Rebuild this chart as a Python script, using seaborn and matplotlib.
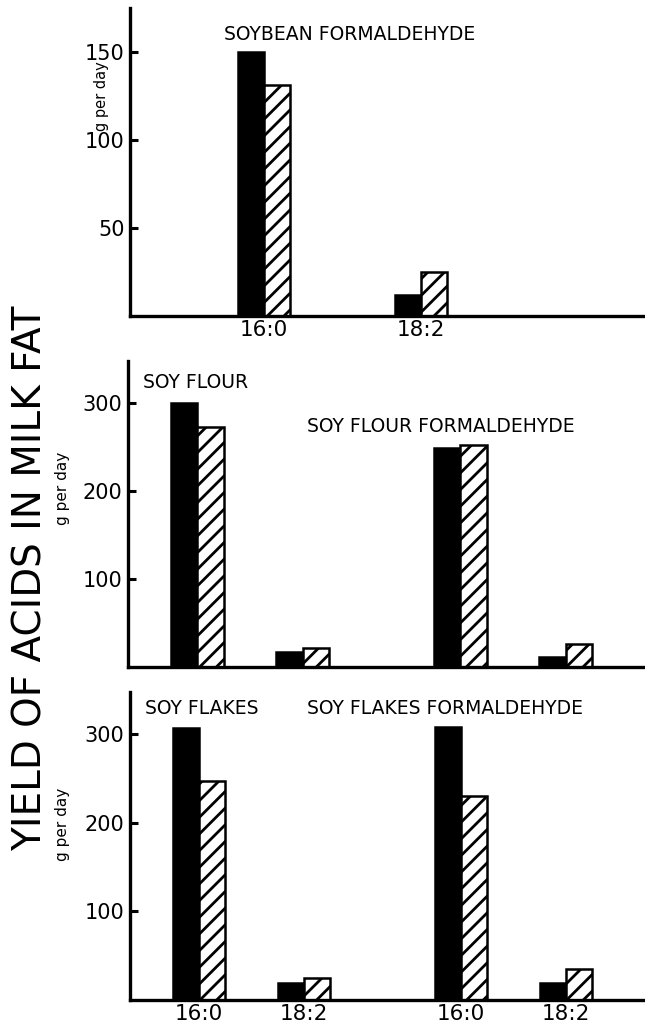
import matplotlib
matplotlib.use("Agg")
import matplotlib.pyplot as plt
import seaborn as sns
import pandas as pd

# yields in g per day, black bar first, hatched bar second
acids = ["16:0", "18:2"]
periods = ["black", "hatched"]

soybean_form_black = [150, 12]
soybean_form_hatched = [131, 25]

soy_flour_black = [300, 17]
soy_flour_hatched = [273, 22]
soy_flour_form_black = [249, 12]
soy_flour_form_hatched = [252, 26]

soy_flakes_black = [307, 19]
soy_flakes_hatched = [247, 24]
soy_flakes_form_black = [308, 19]
soy_flakes_form_hatched = [230, 35]


def make_frame(prefix, black, hatched):
    rows = []
    for acid, b, h in zip(acids, black, hatched):
        rows.append({"slot": f"{prefix} {acid}", "period": "black", "value": b})
        rows.append({"slot": f"{prefix} {acid}", "period": "hatched", "value": h})
    return pd.DataFrame(rows)


def draw_panel(ax, df, order, xlim, ylim, yticks, show_xlabels):
    sns.barplot(data=df, x="slot", y="value", hue="period", order=order,
                hue_order=periods, palette={"black": "black", "hatched": "white"},
                width=1.0, errorbar=None, edgecolor="black", linewidth=1.8,
                legend=False, ax=ax)
    for bar in ax.containers[1]:
        bar.set_hatch("//")
    ax.set_xlim(*xlim)
    ax.set_ylim(*ylim)
    ax.set_yticks(yticks)
    ax.set_yticklabels([str(t) for t in yticks], fontsize=15)
    idx = [i for i, k in enumerate(order) if not k.startswith("_")]
    if show_xlabels:
        ax.set_xticks(idx, [order[i].split(" ")[-1] for i in idx], fontsize=15.5)
    else:
        ax.set_xticks([])
    ax.tick_params(axis="y", direction="in", length=6, width=2.2, pad=4, colors="black")
    ax.tick_params(axis="x", length=0, pad=3, colors="black")
    ax.set_xlabel("")
    ax.set_ylabel("")
    sns.despine(ax=ax)
    for side in ["left", "bottom"]:
        ax.spines[side].set_linewidth(2.4)
        ax.spines[side].set_color("black")


sns.set_style("ticks")
plt.rcParams["font.family"] = ["DejaVu Sans"]
plt.rcParams["text.color"] = "black"
plt.rcParams["hatch.linewidth"] = 2.0

W, H = 645, 1034
fig = plt.figure(figsize=(W / 100, H / 100), dpi=100)

ax_top = fig.add_axes([130 / W, 1 - 315.7 / H, 1 - 130 / W, (315.7 - 8) / H])
ax_mid = fig.add_axes([128 / W, 1 - 667.3 / H, 1 - 128 / W, (667.3 - 360.7) / H])
ax_bot = fig.add_axes([130 / W, 1 - 999.5 / H, 1 - 130 / W, (999.5 - 691.7) / H])

# top: soybean formaldehyde
top_df = make_frame("SB", soybean_form_black, soybean_form_hatched)
top_order = ["SB 16:0", "_a", "_b", "SB 18:2"]
draw_panel(ax_top, top_df, top_order, (-2.56, 7.27), (0, 175), [50, 100, 150], True)
ax_top.text(0.1825, 0.9155, "SOYBEAN FORMALDEHYDE", transform=ax_top.transAxes,
            ha="left", va="center", fontsize=13.5)

# middle: soy flour / soy flour formaldehyde
mid_df = pd.concat([make_frame("SF", soy_flour_black, soy_flour_hatched),
                    make_frame("SFF", soy_flour_form_black, soy_flour_form_hatched)])
mid_order = ["SF 16:0", "_a", "SF 18:2", "_b", "_c", "SFF 16:0", "_d", "SFF 18:2"]
draw_panel(ax_mid, mid_df, mid_order, (-1.32, 8.51), (0, 348), [100, 200, 300], False)
ax_mid.text(0.0285, 0.929, "SOY FLOUR", transform=ax_mid.transAxes,
            ha="left", va="center", fontsize=13.5)
ax_mid.text(0.3456, 0.784, "SOY FLOUR FORMALDEHYDE", transform=ax_mid.transAxes,
            ha="left", va="center", fontsize=13.5)

# bottom: soy flakes / soy flakes formaldehyde
bot_df = pd.concat([make_frame("SK", soy_flakes_black, soy_flakes_hatched),
                    make_frame("SKF", soy_flakes_form_black, soy_flakes_form_hatched)])
bot_order = ["SK 16:0", "_a", "SK 18:2", "_b", "_c", "SKF 16:0", "_d", "SKF 18:2"]
draw_panel(ax_bot, bot_df, bot_order, (-1.32, 8.51), (0, 348), [100, 200, 300], True)
ax_bot.text(0.029, 0.944, "SOY FLAKES", transform=ax_bot.transAxes,
            ha="left", va="center", fontsize=13.5)
ax_bot.text(0.343, 0.944, "SOY FLAKES FORMALDEHYDE", transform=ax_bot.transAxes,
            ha="left", va="center", fontsize=13.5)

# axis labels
fig.text(31 / W, 1 - 578 / H, "YIELD OF ACIDS IN MILK FAT", rotation=90,
         ha="center", va="center", fontsize=28)
fig.text(101 / W, 1 - 96 / H, "g per day", rotation=90, ha="center", va="center", fontsize=10.5)
fig.text(63 / W, 1 - 488 / H, "g per day", rotation=90, ha="center", va="center", fontsize=11)
fig.text(62 / W, 1 - 824 / H, "g per day", rotation=90, ha="center", va="center", fontsize=11)

fig.savefig("out.png", dpi=100)
